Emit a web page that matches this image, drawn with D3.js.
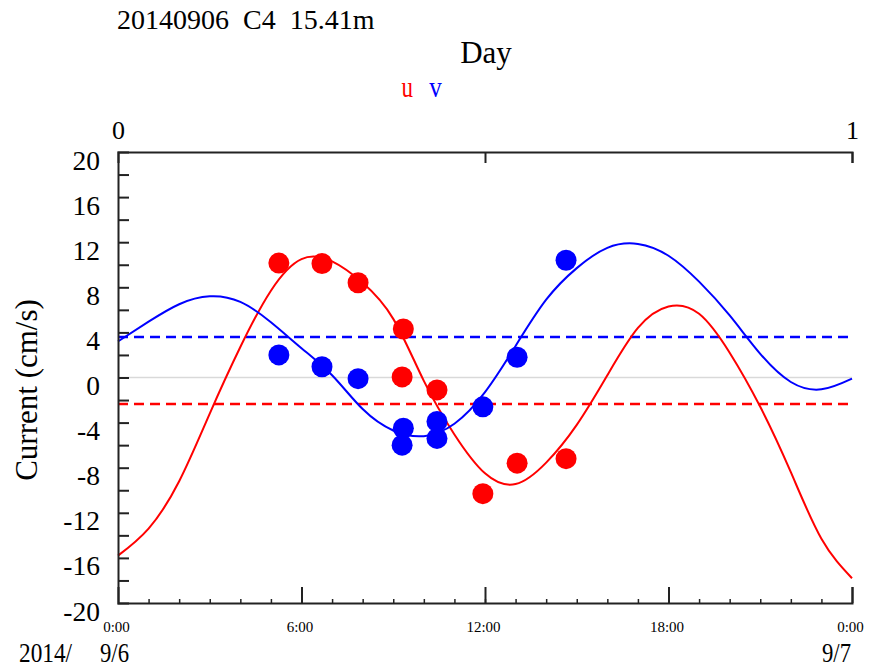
<!DOCTYPE html>
<html>
<head>
<meta charset="utf-8">
<script src="https://cdn.jsdelivr.net/npm/d3@7"></script>
<style>
  html, body { margin: 0; padding: 0; background: #fff; }
  svg { display: block; }
</style>
</head>
<body>
<svg id="chart" width="869" height="671"></svg>
<script>
// ---- data ----
const titleText = "20140906  C4  15.41m";
const hours = [0,1,2,3,4,5,6,7,8,9,10,11,12,13,14,15,16,17,18,19,20,21,22,23,24];
const uFit = [-15.8,-13.4,-9.2,-3.2,2.7,7.7,10.5,10.3,8.4,5.2,-0.3,-5.05,-8.5,-9.45,-7.55,-4.2,0.2,4.4,6.3,5.65,2.2,-2.6,-8.4,-14.3,-17.8];
const vFit = [3.2,4.95,6.5,7.2,6.7,4.9,2.6,0.2,-2.8,-4.7,-5.2,-4.1,-1.3,2.8,6.9,9.7,11.5,11.85,10.8,8.5,5.5,2.1,-0.4,-1.05,-0.1];
const obsHours = [5.26,6.67,7.85,9.33,9.29,10.43,10.43,11.93,13.05,14.65];
const uObs = [10.15,10.1,8.4,4.3,0.05,-1.1,null,-10.3,-7.6,-7.2];
const vObs = [2.0,0.95,-0.1,-4.5,-6.0,-3.9,-5.4,-2.6,1.8,10.4];
const uMean = -2.35;
const vMean = 3.6;
const yTicks = [-20,-18,-16,-14,-12,-10,-8,-6,-4,-2,0,2,4,6,8,10,12,14,16,18,20];
const hourTicks = [0,6,12,18,24];
const hourLabels = ["0:00","6:00","12:00","18:00","0:00"];
const dayTicks = [0,0.5,1];
const dayLabels = {0:"0", 1:"1"};

// ---- layout ----
const FONT = "'Liberation Serif', 'Times New Roman', serif";
const svg = d3.select("#chart");
const L = 118, R = 852, T = 152, B = 603;
const x = d3.scaleLinear().domain([0,24]).range([L,R]);
const xDay = d3.scaleLinear().domain([0,1]).range([L,R]);
const y = d3.scaleLinear().domain([-20,20]).range([B,T]);
const RED = "#ff0000", BLUE = "#0000ff";

function txt(sel, size, color) {
  return sel.style("font-family", FONT).style("font-size", size + "px").style("fill", color || "#000");
}

// zero line
svg.append("line").attr("x1",L).attr("x2",R).attr("y1",y(0)).attr("y2",y(0))
  .attr("stroke","#d9d9d9").attr("stroke-width",1.5);

// mean dashed lines
[[uMean,RED],[vMean,BLUE]].forEach(([m,c]) => {
  svg.append("line").attr("x1",L).attr("x2",R).attr("y1",y(m)).attr("y2",y(m))
    .attr("stroke",c).attr("stroke-width",2.5).attr("stroke-dasharray","10,6");
});

// fitted curves
const line = d3.line().x(d => x(d[0])).y(d => y(d[1])).curve(d3.curveNatural);
svg.append("path").datum(hours.map((h,i)=>[h,uFit[i]])).attr("d",line)
  .attr("fill","none").attr("stroke",RED).attr("stroke-width",2);
svg.append("path").datum(hours.map((h,i)=>[h,vFit[i]])).attr("d",line)
  .attr("fill","none").attr("stroke",BLUE).attr("stroke-width",2);

// observations
svg.append("g").selectAll("circle").data(obsHours.map((h,i)=>[h,uObs[i]]).filter(d=>d[1]!==null))
  .join("circle").attr("cx",d=>x(d[0])).attr("cy",d=>y(d[1])).attr("r",10.5).attr("fill",RED);
svg.append("g").selectAll("circle").data(obsHours.map((h,i)=>[h,vObs[i]]))
  .join("circle").attr("cx",d=>x(d[0])).attr("cy",d=>y(d[1])).attr("r",10.5).attr("fill",BLUE);

// left axis
const gL = svg.append("g").attr("transform",`translate(${L},0)`)
  .call(d3.axisLeft(y).tickValues(yTicks).tickSize(-11).tickPadding(18)
    .tickFormat(d => (d % 4 === 0) ? String(d) : ""));
gL.select(".domain").attr("stroke","#222").attr("stroke-width",2);
gL.selectAll(".tick line").attr("stroke","#222").attr("stroke-width",2);
gL.selectAll(".tick").filter(d => d === 20 || d === -20).select("line").remove();
txt(gL.selectAll("text"), 27.5).attr("dy","0.62em");

// bottom axis minor
const gBm = svg.append("g").attr("transform",`translate(0,${B})`)
  .call(d3.axisBottom(x).tickValues(d3.range(1,24)).tickSize(-4).tickFormat(""));
gBm.select(".domain").remove();
gBm.selectAll(".tick line").attr("stroke","#222").attr("stroke-width",1.5);
// bottom axis major
const gB = svg.append("g").attr("transform",`translate(0,${B})`)
  .call(d3.axisBottom(x).tickValues(hourTicks).tickSize(-16).tickPadding(16)
    .tickFormat((d,i) => hourLabels[i]));
gB.select(".domain").attr("stroke","#222").attr("stroke-width",2);
gB.selectAll(".tick line").attr("stroke","#222").attr("stroke-width",2);
gB.selectAll(".tick").filter(d => d === 0).select("line").remove();
txt(gB.selectAll("text"), 15).attr("dy","0").attr("y",29).attr("dx",-2);

// top axis (Day)
const gT = svg.append("g").attr("transform",`translate(0,${T})`)
  .call(d3.axisTop(xDay).tickValues(dayTicks).tickSize(-11).tickPadding(13)
    .tickFormat(d => dayLabels[d] || ""));
gT.select(".domain").attr("stroke","#222").attr("stroke-width",2);
gT.selectAll(".tick line").attr("stroke","#222").attr("stroke-width",2);
gT.selectAll(".tick").filter(d => d === 0).select("line").remove();
txt(gT.selectAll("text"), 26);

// titles / labels
txt(svg.append("text").attr("x",117).attr("y",29), 28)
  .style("white-space","pre").text(titleText);
txt(svg.append("text").attr("x",486).attr("y",63), 31)
  .attr("text-anchor","middle").text("Day");
txt(svg.append("text").attr("x",401.5).attr("y",97), 29, RED)
  .attr("textLength",11.5).attr("lengthAdjust","spacingAndGlyphs").text("u");
txt(svg.append("text").attr("x",429.3).attr("y",97), 29, BLUE)
  .attr("textLength",12.5).attr("lengthAdjust","spacingAndGlyphs").text("v");
txt(svg.append("text").attr("transform","translate(37,390) rotate(-90)"), 31)
  .attr("text-anchor","middle").text("Current (cm/s)");
txt(svg.append("text").attr("x",19).attr("y",662), 28)
  .attr("textLength",53).attr("lengthAdjust","spacingAndGlyphs").text("2014/");
txt(svg.append("text").attr("x",100).attr("y",662), 28)
  .attr("textLength",29).attr("lengthAdjust","spacingAndGlyphs").text("9/6");
txt(svg.append("text").attr("x",822).attr("y",662), 28)
  .attr("textLength",29).attr("lengthAdjust","spacingAndGlyphs").text("9/7");
</script>
</body>
</html>
